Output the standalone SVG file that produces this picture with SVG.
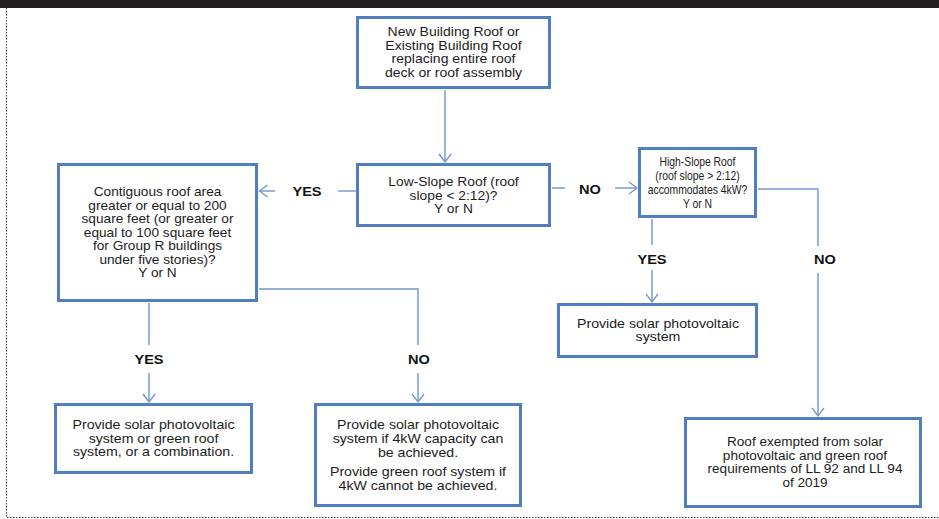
<svg xmlns="http://www.w3.org/2000/svg" width="939" height="519" viewBox="0 0 939 519">
<style>
.box{fill:#fff;stroke:#4f7fc0;stroke-width:3}
.con{fill:none;stroke:#7195ca;stroke-width:1.4}
.t{font-family:"Liberation Sans",Arial,sans-serif;font-size:12px;fill:#1c1c1c;text-anchor:middle}
.lab{font-family:"Liberation Sans",Arial,sans-serif;font-size:13px;font-weight:bold;fill:#111;text-anchor:middle}
.frame{stroke:#444;stroke-width:1;stroke-dasharray:1.5 1.5;fill:none}
</style>
<defs>
<marker id="arr" markerUnits="userSpaceOnUse" markerWidth="14" markerHeight="14" refX="9" refY="7" orient="auto" viewBox="0 0 14 14">
<path d="M1,1 L9,7 L1,13" fill="none" stroke="#7195ca" stroke-width="1.3"/>
</marker>
</defs>
<rect x="0" y="0" width="939" height="519" fill="#fff"/>
<rect x="0" y="0" width="939" height="8" fill="#231f20"/>
<path class="frame" d="M6.5,8 V517.5 H939"/>

<g id="connectors">
<path class="con" d="M445,90 V162" marker-end="url(#arr)"/>
<path class="con" d="M356,191 H338"/>
<path class="con" d="M275,191 H259.5" marker-end="url(#arr)"/>
<path class="con" d="M552,188 H565"/>
<path class="con" d="M615,188 H637" marker-end="url(#arr)"/>
<path class="con" d="M652,219 V245"/>
<path class="con" d="M652,270 V302" marker-end="url(#arr)"/>
<path class="con" d="M758,189 H818 V246"/>
<path class="con" d="M818,273 V416" marker-end="url(#arr)"/>
<path class="con" d="M149,303 V345"/>
<path class="con" d="M149,373 V402" marker-end="url(#arr)"/>
<path class="con" d="M259,289 H418 V345"/>
<path class="con" d="M418,373 V402" marker-end="url(#arr)"/>
<text class="lab" transform="translate(307,0) scale(1.12,1)" x="0" y="195.7">YES</text>
<text class="lab" transform="translate(590,0) scale(1.12,1)" x="0" y="193.7">NO</text>
<text class="lab" transform="translate(652,0) scale(1.12,1)" x="0" y="263.7">YES</text>
<text class="lab" transform="translate(825,0) scale(1.12,1)" x="0" y="263.7">NO</text>
<text class="lab" transform="translate(149,0) scale(1.12,1)" x="0" y="363.7">YES</text>
<text class="lab" transform="translate(419,0) scale(1.12,1)" x="0" y="363.7">NO</text>
</g>

<g id="start">
<rect class="box" x="357.5" y="17.5" width="192" height="70"/>
<text class="t" transform="translate(453.5,0) scale(1.17,1)"><tspan x="0" y="36.5">New Building Roof or</tspan><tspan x="0" y="50">Existing Building Roof</tspan><tspan x="0" y="63.5">replacing entire roof</tspan><tspan x="0" y="77">deck or roof assembly</tspan></text>
</g>

<g id="lowslope">
<rect class="box" x="357.5" y="164.5" width="192" height="61"/>
<text class="t" transform="translate(453.5,0) scale(1.15,1)"><tspan x="0" y="186.3">Low-Slope Roof (roof</tspan><tspan x="0" y="199.8">slope &lt; 2:12)?</tspan><tspan x="0" y="213.3">Y or N</tspan></text>
</g>

<g id="contiguous">
<rect class="box" x="58.5" y="164.5" width="198" height="136"/>
<text class="t" transform="translate(157.5,0) scale(1.14,1)"><tspan x="0" y="196.3">Contiguous roof area</tspan><tspan x="0" y="209.8">greater or equal to 200</tspan><tspan x="0" y="223.3">square feet (or greater or</tspan><tspan x="0" y="236.8">equal to 100 square feet</tspan><tspan x="0" y="250.3">for Group R buildings</tspan><tspan x="0" y="263.8">under five stories)?</tspan><tspan x="0" y="277.3">Y or N</tspan></text>
</g>

<g id="highslope">
<rect class="box" x="639.5" y="148.5" width="116" height="68"/>
<text class="t" style="font-size:12.5px" transform="translate(697.5,0) scale(0.83,1)"><tspan x="0" y="166">High-Slope Roof</tspan><tspan x="0" y="180">(roof slope &gt; 2:12)</tspan><tspan x="0" y="194">accommodates 4kW?</tspan><tspan x="0" y="208">Y or N</tspan></text>
</g>

<g id="pv">
<rect class="box" x="558.5" y="304.5" width="198" height="52"/>
<text class="t" transform="translate(658,0) scale(1.18,1)"><tspan x="0" y="328">Provide solar photovoltaic</tspan><tspan x="0" y="341.5">system</tspan></text>
</g>

<g id="pvgreen">
<rect class="box" x="55.5" y="404.5" width="196" height="68"/>
<text class="t" transform="translate(153.5,0) scale(1.18,1)"><tspan x="0" y="429.3">Provide solar photovoltaic</tspan><tspan x="0" y="442.8">system or green roof</tspan><tspan x="0" y="456.3">system, or a combination.</tspan></text>
</g>

<g id="pvif4kw">
<rect class="box" x="315.5" y="404.5" width="205" height="101"/>
<text class="t" transform="translate(418,0) scale(1.18,1)"><tspan x="0" y="429.3">Provide solar photovoltaic</tspan><tspan x="0" y="443">system if 4kW capacity can</tspan><tspan x="0" y="456.7">be achieved.</tspan><tspan x="0" y="476">Provide green roof system if</tspan><tspan x="0" y="489.7">4kW cannot be achieved.</tspan></text>
</g>

<g id="exempt">
<rect class="box" x="685.5" y="418.5" width="235" height="88"/>
<text class="t" transform="translate(805,0) scale(1.13,1)"><tspan x="0" y="446.5">Roof exempted from solar</tspan><tspan x="0" y="460">photovoltaic and green roof</tspan><tspan x="0" y="473.5">requirements of LL 92 and LL 94</tspan><tspan x="0" y="487">of 2019</tspan></text>
</g>
</svg>
